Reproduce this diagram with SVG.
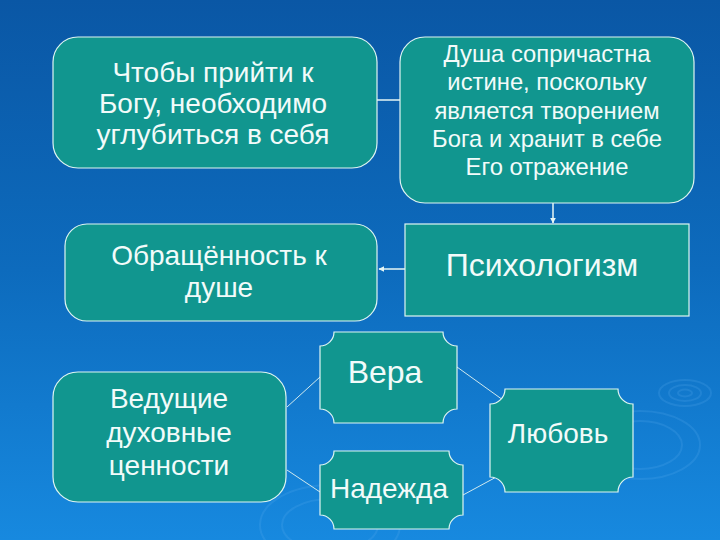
<svg xmlns="http://www.w3.org/2000/svg" width="720" height="540" viewBox="0 0 720 540">
  <defs>
    <linearGradient id="bg" x1="0" y1="0" x2="0" y2="1">
      <stop offset="0" stop-color="#0a57a5"/>
      <stop offset="0.5" stop-color="#0d6bbd"/>
      <stop offset="1" stop-color="#1789df"/>
    </linearGradient>
    <marker id="arr" viewBox="0 0 10 10" refX="9" refY="5" markerWidth="4" markerHeight="4" orient="auto">
      <path d="M0,0 L10,5 L0,10 z" fill="#e6f6f4"/>
    </marker>
    <style>
      .node { fill: #11968f; stroke: #dff5f2; stroke-width: 1.2; }
      .lbl { font-family: "Liberation Sans", Arial, sans-serif; fill: #f2fbfa; text-anchor: middle; }
      .conn { stroke: #e6f6f4; stroke-width: 1.5; fill: none; }
      .thin { stroke: #cfe9ee; stroke-width: 1; fill: none; }
      .ripple { fill: none; stroke: #5fb0ee; stroke-opacity: 0.2; stroke-width: 2; }
    </style>
  </defs>

  <rect x="0" y="0" width="720" height="540" fill="url(#bg)"/>

  <g id="ripples">
    <ellipse class="ripple" cx="685" cy="393" rx="26" ry="13"/>
    <ellipse class="ripple" cx="685" cy="393" rx="16" ry="8"/>
    <ellipse class="ripple" cx="685" cy="393" rx="7" ry="3.5"/>
    <ellipse class="ripple" cx="640" cy="445" rx="60" ry="34"/>
    <ellipse class="ripple" cx="640" cy="445" rx="42" ry="24"/>
    <ellipse class="ripple" cx="330" cy="525" rx="70" ry="40"/>
    <ellipse class="ripple" cx="330" cy="525" rx="48" ry="26"/>
  </g>

  <g id="connectors">
    <line class="conn" x1="377" y1="100" x2="400" y2="100"/>
    <line class="conn" x1="553" y1="203" x2="553" y2="223" marker-end="url(#arr)"/>
    <line class="conn" x1="405" y1="269" x2="379" y2="269" marker-end="url(#arr)"/>
    <line class="thin" x1="287" y1="407" x2="320" y2="377"/>
    <line class="thin" x1="287" y1="470" x2="320" y2="492"/>
    <line class="thin" x1="457" y1="367" x2="503" y2="400"/>
    <line class="thin" x1="463" y1="495" x2="500" y2="475"/>
  </g>

  <g id="node-bogu">
    <rect class="node" x="53" y="37" width="324" height="131" rx="25" ry="25"/>
    <text class="lbl" font-size="28" x="213" y="82">Чтобы прийти к</text>
    <text class="lbl" font-size="28" x="213" y="113">Богу, необходимо</text>
    <text class="lbl" font-size="28" x="213" y="144">углубиться в себя</text>
  </g>

  <g id="node-dusha">
    <rect class="node" x="400" y="37" width="294" height="166" rx="25" ry="25"/>
    <text class="lbl" font-size="23.8" x="547" y="62">Душа сопричастна</text>
    <text class="lbl" font-size="23.8" x="547" y="90">истине, поскольку</text>
    <text class="lbl" font-size="23.8" x="547" y="119">является творением</text>
    <text class="lbl" font-size="23.8" x="547" y="147">Бога и хранит в себе</text>
    <text class="lbl" font-size="23.8" x="547" y="175">Его отражение</text>
  </g>

  <g id="node-obrashchennost">
    <rect class="node" x="65" y="224" width="312" height="97" rx="22" ry="22"/>
    <text class="lbl" font-size="28" x="219" y="265">Обращённость к</text>
    <text class="lbl" font-size="28" x="219" y="297">душе</text>
  </g>

  <g id="node-psikhologizm">
    <rect class="node" x="405" y="224" width="284" height="92"/>
    <text class="lbl" font-size="32" x="542" y="276">Психологизм</text>
  </g>

  <g id="node-tsennosti">
    <rect class="node" x="53" y="372" width="233" height="130" rx="25" ry="25"/>
    <text class="lbl" font-size="28" x="169" y="408">Ведущие</text>
    <text class="lbl" font-size="28" x="169" y="442">духовные</text>
    <text class="lbl" font-size="28" x="169" y="475">ценности</text>
  </g>

  <g id="node-vera">
    <path class="node" d="M334,332 H443 A14,14 0 0 0 457,346 V409 A14,14 0 0 0 443,423 H334 A14,14 0 0 0 320,409 V346 A14,14 0 0 0 334,332 Z"/>
    <text class="lbl" font-size="32" x="385" y="383">Вера</text>
  </g>

  <g id="node-nadezhda">
    <path class="node" d="M334,451 H449 A14,14 0 0 0 463,465 V515 A14,14 0 0 0 449,529 H334 A14,14 0 0 0 320,515 V465 A14,14 0 0 0 334,451 Z"/>
    <text class="lbl" font-size="28" x="389" y="498">Надежда</text>
  </g>

  <g id="node-lyubov">
    <path class="node" d="M505,389 H618 A15,15 0 0 0 633,404 V477 A15,15 0 0 0 618,492 H505 A15,15 0 0 0 490,477 V404 A15,15 0 0 0 505,389 Z"/>
    <text class="lbl" font-size="28" x="558" y="443">Любовь</text>
  </g>
</svg>
